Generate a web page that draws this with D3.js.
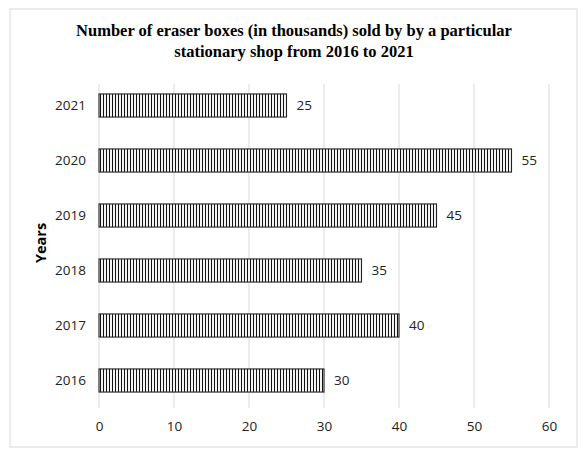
<!DOCTYPE html>
<html>
<head>
<meta charset="utf-8">
<script src="https://cdn.jsdelivr.net/npm/d3@7"></script>
<style>
  body { margin: 0; background: #fff; }
  svg { display: block; }
</style>
</head>
<body>
<div id="chart"></div>
<script>
var years = ["2016", "2017", "2018", "2019", "2020", "2021"];
var sales = [30, 40, 35, 45, 55, 25];
var xTicks = [0, 10, 20, 30, 40, 50, 60];
var titleLines = ["Number of eraser boxes (in thousands) sold by by a particular",
                  "stationary shop from 2016 to 2021"];

var W = 588, H = 453;
var margin = {left: 99, right: 39, top: 78, bottom: 45};

var svg = d3.select("#chart").append("svg")
    .attr("width", W).attr("height", H);

// vertical hatch
var pat = svg.append("defs").append("pattern")
    .attr("id", "vhatch")
    .attr("patternUnits", "userSpaceOnUse")
    .attr("width", 3).attr("height", 10);
pat.append("rect").attr("width", 3).attr("height", 10).attr("fill", "#fff");
pat.append("line")
    .attr("x1", 1.5).attr("x2", 1.5).attr("y1", 0).attr("y2", 10)
    .attr("stroke", "#111").attr("stroke-width", 1.1);

// outer frame
svg.append("rect")
    .attr("x", 10).attr("y", 9).attr("width", 567).attr("height", 438)
    .attr("fill", "none").attr("stroke", "#d9d9d9").attr("stroke-width", 1);

svg.append("g").selectAll("text")
    .data(titleLines)
    .enter().append("text")
    .attr("x", 294)
    .attr("y", function(d, i) { return 36 + i * 21; })
    .attr("text-anchor", "middle")
    .style("font-family", "'Liberation Serif', 'Times New Roman', serif")
    .style("font-weight", "bold")
    .style("font-size", "16.5px")
    .text(function(d) { return d; });

var x = d3.scaleLinear().domain([0, 60]).range([margin.left, W - margin.right]);
var y = d3.scaleBand().domain(years.slice().reverse())
    .range([margin.top, H - margin.bottom])
    .paddingInner(0.58).paddingOuter(0.29);

// gridlines
svg.append("g").selectAll("line")
    .data(xTicks)
    .enter().append("line")
    .attr("x1", function(d) { return x(d); })
    .attr("x2", function(d) { return x(d); })
    .attr("y1", margin.top + 6).attr("y2", H - margin.bottom)
    .attr("stroke", "#d9d9d9").attr("stroke-width", 1);

var labelFont = "'Open Sans', 'Noto Sans', sans-serif";

var xAxis = svg.append("g")
    .attr("transform", "translate(0," + (H - margin.bottom) + ")")
    .call(d3.axisBottom(x).tickValues(xTicks).tickSize(0).tickPadding(13));
xAxis.select(".domain").remove();
xAxis.selectAll("text")
    .style("font-family", labelFont).style("font-size", "13.5px").attr("fill", "#222");

var yAxis = svg.append("g")
    .attr("transform", "translate(" + margin.left + ",0)")
    .call(d3.axisLeft(y).tickSize(0).tickPadding(13));
yAxis.select(".domain").remove();
yAxis.selectAll("text")
    .style("font-family", labelFont).style("font-size", "13.5px").attr("fill", "#222");

var rows = years.map(function(d, i) { return {year: d, value: sales[i]}; });

svg.append("g").selectAll("rect")
    .data(rows)
    .enter().append("rect")
    .attr("x", x(0))
    .attr("y", function(d) { return y(d.year); })
    .attr("width", function(d) { return x(d.value) - x(0); })
    .attr("height", y.bandwidth())
    .attr("fill", "url(#vhatch)")
    .attr("stroke", "#222").attr("stroke-width", 1.1);

svg.append("g").selectAll("text")
    .data(rows)
    .enter().append("text")
    .attr("x", function(d) { return x(d.value) + 10; })
    .attr("y", function(d) { return y(d.year) + y.bandwidth() / 2; })
    .attr("dy", "0.35em")
    .style("font-family", labelFont).style("font-size", "13.5px").attr("fill", "#222")
    .text(function(d) { return d.value; });

svg.append("text")
    .attr("transform", "translate(46,243) rotate(-90)")
    .attr("text-anchor", "middle")
    .style("font-family", labelFont).style("font-weight", "bold").style("font-size", "14.5px")
    .text("Years");
</script>
</body>
</html>
